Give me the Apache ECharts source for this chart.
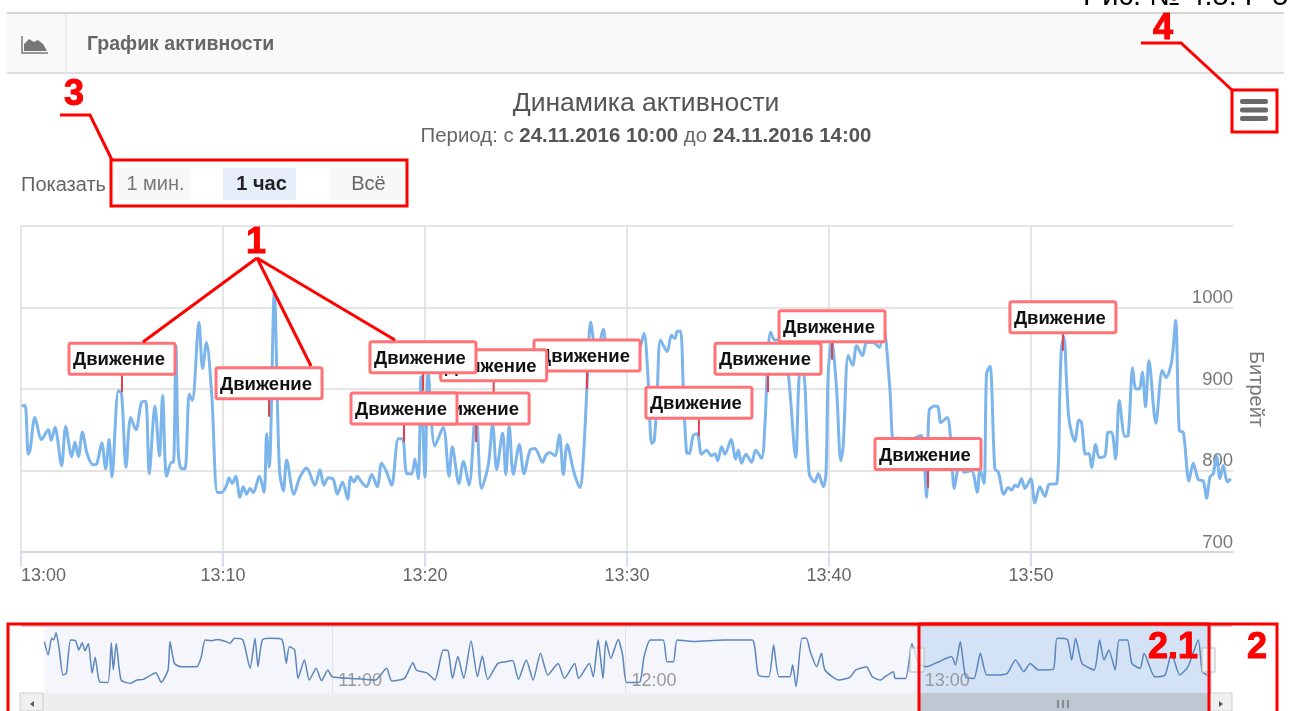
<!DOCTYPE html>
<html>
<head>
<meta charset="utf-8">
<title>График активности</title>
<style>
    html, body { margin: 0; padding: 0; background: #fff; }
    #chart { width: 1290px; height: 711px; }
</style>
<script src="https://cdn.jsdelivr.net/npm/echarts@6/dist/echarts.min.js"></script>
</head>
<body>
<div id="chart"></div>
<script>
// main plot: minutes after 13:00 / bitrate
const mainMinutes = [
    0.03, 0.2, 0.36, 0.45, 0.69, 1.02, 1.35, 1.5, 1.68, 2.01, 2.21, 2.51, 2.67, 2.84, 3.04, 3.28, 3.58, 3.75, 4.0, 4.19,
    4.36, 4.5, 4.82, 4.98, 5.2, 5.43, 5.69, 5.97, 6.17, 6.35, 6.63, 6.85, 7.01, 7.21, 7.46, 7.55, 7.67, 7.79, 7.95, 8.12,
    8.33, 8.48, 8.81, 8.99, 9.18, 9.44, 9.72, 9.93, 10.18, 10.3, 10.46, 10.63, 10.84, 11.0, 11.17, 11.34, 11.5, 11.8, 12.03, 12.16,
    12.29, 12.54, 12.79, 12.99, 13.15, 13.51, 13.81, 14.14, 14.55, 14.8, 15.0, 15.21, 15.46, 15.66, 15.92, 16.17, 16.32, 16.49, 16.65, 16.82,
    17.11, 17.36, 17.64, 17.85, 18.1, 18.35, 18.68, 18.89, 19.1, 19.34, 19.5, 19.67, 19.8, 20.0, 20.16, 20.49, 20.9, 21.19, 21.35, 21.68,
    21.9, 22.18, 22.52, 22.8, 23.13, 23.35, 23.55, 23.84, 24.0, 24.17, 24.37, 24.67, 24.9, 25.2, 25.44, 25.82, 25.99, 26.19, 26.43, 26.65,
    26.85, 27.04, 27.37, 27.67, 27.84, 28.05, 28.2, 28.5, 28.83, 29.1, 30.0, 30.6, 30.84, 31.05, 31.22, 31.35, 31.5, 31.66, 31.99, 32.2,
    32.37, 32.49, 32.65, 32.79, 32.95, 33.08, 33.28, 33.48, 33.69, 33.94, 34.19, 34.35, 34.49, 34.68, 34.85, 35.15, 35.38, 35.51, 35.67, 35.89,
    36.17, 36.37, 36.66, 36.83, 36.94, 37.11, 37.32, 37.6, 37.98, 38.35, 38.56, 38.73, 39.02, 39.3, 39.47, 39.72, 39.85, 39.96, 40.13, 40.38,
    40.58, 40.7, 40.95, 41.17, 41.37, 41.66, 41.86, 42.19, 42.49, 42.69, 43.02, 43.18, 43.38, 43.9, 44.34, 44.58, 44.83, 44.96, 45.24, 45.4,
    45.54, 45.85, 46.02, 46.2, 46.35, 46.5, 46.68, 47.05, 47.34, 47.47, 47.67, 47.8, 47.97, 48.21, 48.38, 48.66, 48.87, 49.04, 49.2, 49.33,
    49.53, 49.7, 49.99, 50.19, 50.44, 50.69, 50.9, 51.27, 51.43, 51.51, 51.63, 51.76, 51.89, 52.17, 52.37, 52.5, 52.7, 52.87, 53.0, 53.2,
    53.38, 53.66, 53.82, 53.99, 54.19, 54.37, 54.65, 54.81, 55.03, 55.19, 55.36, 55.51, 55.67, 55.84, 56.18, 56.5, 56.68, 56.96, 57.16, 57.34,
    57.54, 57.82, 58.03, 58.28, 58.53, 58.69, 58.86, 59.02, 59.19, 59.35, 59.52, 59.72, 59.89
];
const mainBitrate = [
    879, 880, 820, 825, 865, 838, 850, 837, 853, 806, 854, 817, 835, 817, 847, 820, 807, 808, 834, 802,
    838, 792, 898, 894, 804, 865, 850, 884, 885, 796, 879, 818, 892, 793, 810, 810, 953, 820, 802, 802,
    894, 886, 982, 925, 957, 894, 773, 773, 782, 791, 784, 793, 767, 780, 771, 778, 773, 793, 773, 845,
    804, 1019, 802, 775, 813, 771, 792, 803, 782, 801, 782, 791, 789, 771, 786, 765, 792, 786, 793, 787,
    780, 795, 780, 809, 798, 782, 839, 839, 796, 796, 814, 790, 915, 792, 920, 830, 853, 793, 829, 784,
    811, 782, 878, 778, 806, 857, 801, 846, 795, 855, 795, 832, 796, 825, 827, 810, 819, 822, 818, 844,
    795, 832, 798, 779, 816, 919, 982, 939, 973, 940, 945, 950, 968, 910, 833, 837, 898, 960, 946, 966,
    962, 971, 971, 898, 822, 821, 843, 845, 820, 825, 818, 821, 812, 829, 820, 838, 814, 825, 809, 820,
    810, 825, 815, 857, 919, 970, 960, 960, 919, 816, 919, 919, 796, 786, 796, 780, 796, 919, 960, 898,
    812, 829, 941, 929, 953, 941, 957, 957, 951, 978, 898, 837, 840, 835, 841, 843, 767, 874, 879, 878,
    859, 865, 839, 778, 798, 808, 798, 800, 773, 802, 784, 919, 928, 802, 798, 771, 779, 776, 782, 780,
    790, 778, 790, 760, 780, 768, 783, 784, 898, 951, 964, 910, 861, 836, 862, 859, 820, 821, 804, 832,
    816, 818, 847, 847, 814, 886, 842, 843, 926, 900, 900, 921, 878, 935, 858, 923, 914, 933, 984, 849,
    847, 787, 809, 789, 787, 766, 792, 796, 818, 790, 806, 786, 790
];

// flag foot points, listed latest first: earlier flags are painted over later ones
const flagMinutes = [51.58, 44.9, 40.15, 36.98, 33.56, 28.02, 23.4, 22.53, 19.9, 18.96, 12.28, 5.0];
const flagBitrate = [947, 779, 936, 896, 842, 900, 888, 835, 898, 835, 866, 896];
const flagLabel = 'Движение';

// navigator: minutes after 10:00 / bitrate
const navMinutes = [
    1.1, 1.87, 2.6, 3.0, 3.5, 4.16, 4.9, 5.6, 6.45, 7.47, 8.15, 8.83, 9.42, 10.1, 10.87, 11.5, 12.4, 14.1, 14.8, 15.2,
    15.8, 16.8, 18.8, 20, 21.3, 23.9, 25, 26.4, 26.8, 27.7, 29, 32.3, 33.2, 34, 35.3, 36.6, 38.3, 39.1, 40, 41.7,
    43.2, 44.2, 44.8, 45.7, 47.4, 49.7, 50.6, 51.2, 52.3, 53, 54.3, 55.3, 56.7, 57.8, 59.1, 60, 64.2, 68.8, 71.1, 72.2,
    74.8, 76.5, 77.2, 79.5, 81, 82.7, 83.7, 84.6, 85.7, 86.9, 88.4, 89.7, 90.7, 91.8, 93.9, 95.6, 96.9, 98.1, 99.7, 101.1,
    102.6, 104.1, 106.2, 107.5, 109.6, 110.4, 112.6, 113.4, 114.4, 115.4, 116, 117, 118.5, 119.4, 120.2, 121.9, 123, 123.8, 125.1, 127.7,
    128.5, 129.8, 130.6, 134, 140, 145.9, 147.2, 149.3, 150.3, 151.4, 153.6, 154.2, 154.9, 156.1, 157, 157.8, 159.1, 160.1, 160.8, 163.7,
    165.9, 167.1, 168, 169.3, 170.5, 172.2, 173.1, 174.8, 175.2, 177.3, 178.6, 179.9, 181.6, 184.1, 186.7, 187.5, 188.5, 189.6, 191.3, 192.6,
    193.9, 196, 198.1, 199.8, 201.5, 202.8, 204.5, 207.5, 208.3, 210.4, 211.3, 212.1, 213.4, 215.9, 217, 217.9, 218.9, 220.2, 221, 222.7,
    223.6, 225.3, 226.1, 228.3, 230.4, 231.7, 233.4, 235.1, 237.2, 238, 239
];
const navBitrate = [
    1022, 925, 1046, 1034, 1087, 961, 780, 792, 1034, 1029, 961, 1014, 956, 1009, 792, 908, 731, 726, 1014, 816,
    1009, 743, 719, 743, 748, 796, 726, 816, 1022, 864, 840, 840, 913, 1034, 1029, 1038, 1022, 1009, 1046, 1034,
    828, 1046, 840, 1034, 1046, 1038, 864, 985, 961, 755, 888, 743, 828, 738, 816, 767, 755, 743, 828, 736,
    755, 869, 816, 792, 743, 961, 956, 755, 913, 755, 1026, 767, 917, 748, 864, 876, 884, 748, 888, 743,
    937, 780, 864, 755, 864, 755, 864, 767, 1034, 755, 1029, 900, 1038, 925, 726, 726, 731, 913, 1034, 1034,
    876, 876, 1034, 1022, 1034, 1034, 780, 767, 997, 767, 767, 852, 695, 1046, 1046, 949, 840, 937, 816, 743,
    763, 816, 828, 840, 767, 743, 767, 804, 755, 755, 1009, 864, 840, 876, 913, 852, 1022, 767, 755, 937,
    780, 780, 792, 888, 804, 864, 816, 820, 1046, 1038, 888, 1046, 864, 816, 1034, 888, 961, 816, 1034, 1034,
    864, 828, 937, 767, 780, 937, 780, 840, 1034, 804, 780
];

const mainTicks = [0, 10, 20, 30, 40, 50];
const navTicks = [60, 120, 180];
const selectedStart = 180;
const navEnd = 240;

const FONT = '"Liberation Sans", Arial, sans-serif';
const RED = '#ff0000';

function clock(baseHour, minutes) {
    const total = baseHour * 60 + minutes;
    const mm = String(total % 60).padStart(2, '0');
    return Math.floor(total / 60) + ':' + mm;
}

function redLine(points) {
    return { type: 'polyline', shape: { points: points }, style: { stroke: RED, lineWidth: 3, fill: null }, z: 100 };
}

function redBox(x, y, width, height) {
    return { type: 'rect', shape: { x: x, y: y, width: width, height: height }, style: { stroke: RED, lineWidth: 3, fill: null }, z: 100 };
}

function redNumber(text, x, y, size) {
    return {
        type: 'text', x: x, y: y, z: 101,
        style: { text: text, fill: RED, stroke: RED, lineWidth: 1, font: 'bold ' + size + 'px ' + FONT },
    };
}

function rangeButton(text, x, fill, color, weight) {
    return [
        { type: 'rect', shape: { x: x, y: 168, width: 73, height: 32 }, style: { fill: fill } },
        {
            type: 'text', x: x + 38.5, y: 184,
            style: { text: text, fill: color, font: weight + ' 20px ' + FONT, textAlign: 'center', textVerticalAlign: 'middle' },
        },
    ];
}

const chart = echarts.init(document.getElementById('chart'));
chart.setOption({
    backgroundColor: '#fff',
    animation: false,
    title: [
        {
            text: 'Динамика активности',
            left: 646, top: 90, padding: 0, textAlign: 'center',
            textStyle: { fontFamily: FONT, fontSize: 26.5, fontWeight: 'normal', color: '#555' },
        },
        {
            text: '{n|Период: с }{b|24.11.2016 10:00}{n| до }{b|24.11.2016 14:00}',
            left: 646, top: 126, padding: 0, textAlign: 'center',
            textStyle: {
                rich: {
                    n: { fontFamily: FONT, fontSize: 20.4, fontWeight: 'normal', color: '#666' },
                    b: { fontFamily: FONT, fontSize: 20.4, fontWeight: 'bold', color: '#555' },
                },
            },
        },
    ],
    grid: [
        { left: 21, top: 226, width: 1212, height: 326 },
        { left: 39, top: 627, width: 1173, height: 66 },
    ],
    xAxis: [
        {
            type: 'value', gridIndex: 0, min: 0, max: 60,
            axisLine: { lineStyle: { color: '#c8d4e4', width: 1.5 } },
            axisTick: { customValues: mainTicks, length: 15, lineStyle: { color: '#c8d4e4', width: 1.5 } },
            splitLine: { show: true, lineStyle: { color: '#dcdcdc', width: 1.5 } },
            axisLabel: {
                customValues: mainTicks, margin: 15, alignMinLabel: 'left',
                color: '#666', fontFamily: FONT, fontSize: 18,
                formatter: (v) => clock(13, v),
            },
        },
        {
            type: 'value', gridIndex: 1, min: 0, max: navEnd, z: 5,
            axisLine: { show: false },
            axisTick: { show: false, customValues: navTicks },
            splitLine: { show: true, lineStyle: { color: '#e2e2e2', width: 1 } },
            axisLabel: {
                customValues: navTicks, inside: true, margin: 3, align: 'left', padding: [0, 0, 0, 6],
                color: '#999', fontFamily: FONT, fontSize: 18,
                formatter: (v) => clock(10, v),
            },
        },
    ],
    yAxis: [
        {
            type: 'value', gridIndex: 0, position: 'right', min: 700, max: 1100, interval: 100,
            name: 'Битрейт', nameLocation: 'middle', nameRotate: -90, nameGap: 13,
            nameTextStyle: { color: '#777', fontFamily: FONT, fontSize: 20 },
            axisLine: { show: false },
            axisTick: { show: false },
            splitLine: { lineStyle: { color: '#dcdcdc', width: 1.5 } },
            axisLabel: {
                inside: true, margin: 0, showMaxLabel: false, verticalAlign: 'bottom', padding: 0,
                color: '#777', fontFamily: FONT, fontSize: 18.5,
                formatter: (v) => String(v),
            },
        },
        {
            type: 'value', gridIndex: 1, min: 649, max: 1128, show: false,
        },
    ],
    series: [
        {
            name: 'Битрейт',
            type: 'line', xAxisIndex: 0, yAxisIndex: 0,
            data: mainMinutes.map((m, i) => [m, mainBitrate[i]]),
            smooth: 0.3, showSymbol: false,
            lineStyle: { color: '#7cb5ec', width: 3 },
            z: 3,
        },
        {
            name: flagLabel,
            type: 'custom', xAxisIndex: 0, yAxisIndex: 0, clip: false, z: 5,
            data: flagMinutes.map((m, i) => [m, flagBitrate[i]]),
            renderItem: function (params, api) {
                const foot = api.coord([api.value(0), api.value(1)]);
                return {
                    type: 'group',
                    children: [
                        {
                            type: 'line',
                            shape: { x1: foot[0], y1: foot[1] - 18, x2: foot[0], y2: foot[1] },
                            style: { stroke: '#e2404c', lineWidth: 2 },
                        },
                        {
                            type: 'rect',
                            shape: { x: foot[0] - 53, y: foot[1] - 49, width: 106, height: 31, r: 2 },
                            style: { fill: '#fff', stroke: '#ff7378', lineWidth: 3 },
                        },
                        {
                            type: 'text', x: foot[0] - 49, y: foot[1] - 32,
                            style: {
                                text: flagLabel, fill: '#111', font: 'bold 18.5px ' + FONT,
                                textAlign: 'left', textVerticalAlign: 'middle',
                            },
                        },
                    ],
                };
            },
        },
        {
            name: 'Навигатор',
            type: 'line', xAxisIndex: 1, yAxisIndex: 1,
            data: navMinutes.map((m, i) => [m, navBitrate[i]]),
            smooth: 0.2, showSymbol: false,
            lineStyle: { color: '#5b85bb', width: 1.5 },
            z: 6,
            markArea: {
                silent: true,
                itemStyle: { opacity: 1 },
                data: [
                    [{ xAxis: navMinutes[0], itemStyle: { color: '#f4f6fc' } }, { xAxis: selectedStart }],
                    [{ xAxis: selectedStart, itemStyle: { color: '#d3e2f4' } }, { xAxis: navEnd }],
                ],
            },
        },
    ],
    graphic: {
        elements: [
            // caption cut off by the top edge of the picture
            { type: 'text', x: 1083, y: -18, style: { text: 'Рис. № 4.5. Р 5', fill: '#000', font: '29px ' + FONT } },

            // panel header
            { type: 'rect', shape: { x: 7, y: 13, width: 1277, height: 60 }, style: { fill: '#f9f9f9' } },
            { type: 'line', shape: { x1: 7, y1: 13, x2: 1284, y2: 13 }, style: { stroke: '#d4d4d4', lineWidth: 2 } },
            { type: 'line', shape: { x1: 7, y1: 73, x2: 1284, y2: 73 }, style: { stroke: '#dedede', lineWidth: 2 } },
            { type: 'line', shape: { x1: 66, y1: 14, x2: 66, y2: 73 }, style: { stroke: '#e4e4e4', lineWidth: 1.5 } },
            { type: 'polyline', shape: { points: [[22, 36], [22, 53], [48, 53]] }, style: { stroke: '#777', lineWidth: 1.5, fill: null } },
            {
                type: 'polygon',
                shape: { points: [[24, 51], [24, 44], [29, 39], [34, 42], [38, 40], [43, 44], [47, 51]] },
                style: { fill: '#777' },
            },
            { type: 'text', x: 87, y: 45, style: { text: 'График активности', fill: '#666', font: 'bold 19.5px ' + FONT, textVerticalAlign: 'middle' } },

            // range selector
            { type: 'text', x: 21, y: 185, style: { text: 'Показать', fill: '#666', font: '20px ' + FONT, textVerticalAlign: 'middle' } },
            ...rangeButton('1 мин.', 117, '#f7f7f7', '#777', 'normal'),
            ...rangeButton('1 час', 223, '#e6eefa', '#222', 'bold'),
            ...rangeButton('Всё', 330, '#f7f7f7', '#666', 'normal'),

            // export menu
            { type: 'rect', shape: { x: 1240, y: 99, width: 28, height: 5, r: 2 }, style: { fill: '#6a6a6a' } },
            { type: 'rect', shape: { x: 1240, y: 107.5, width: 28, height: 5, r: 2 }, style: { fill: '#6a6a6a' } },
            { type: 'rect', shape: { x: 1240, y: 116, width: 28, height: 5, r: 2 }, style: { fill: '#6a6a6a' } },

            // navigator frame, handles and scrollbar
            { type: 'line', shape: { x1: 21, y1: 626, x2: 1232, y2: 626 }, style: { stroke: '#b8b8b8', lineWidth: 1.5 } },
            { type: 'rect', shape: { x: 43, y: 693, width: 1166, height: 18 }, style: { fill: '#eeeeee' } },
            { type: 'rect', shape: { x: 919, y: 693, width: 290, height: 18 }, style: { fill: '#bfc8d2' } },
            { type: 'rect', shape: { x: 20, y: 693, width: 23, height: 18 }, style: { fill: '#f0f0f0', stroke: '#cfcfcf', lineWidth: 1 } },
            { type: 'rect', shape: { x: 1209, y: 693, width: 23, height: 18 }, style: { fill: '#f0f0f0', stroke: '#cfcfcf', lineWidth: 1 } },
            { type: 'polygon', shape: { points: [[34, 701], [30, 704], [34, 707]] }, style: { fill: '#555' } },
            { type: 'polygon', shape: { points: [[1219, 701], [1223, 704], [1219, 707]] }, style: { fill: '#555' } },
            { type: 'line', shape: { x1: 1058, y1: 700, x2: 1058, y2: 708 }, style: { stroke: '#777', lineWidth: 1.5 } },
            { type: 'line', shape: { x1: 1063, y1: 700, x2: 1063, y2: 708 }, style: { stroke: '#777', lineWidth: 1.5 } },
            { type: 'line', shape: { x1: 1068, y1: 700, x2: 1068, y2: 708 }, style: { stroke: '#777', lineWidth: 1.5 } },
            { type: 'rect', z: 7, shape: { x: 910, y: 648, width: 14, height: 24 }, style: { fill: 'rgba(245,245,245,0.75)', stroke: '#bbb', lineWidth: 1 } },
            { type: 'rect', z: 7, shape: { x: 1202, y: 648, width: 13, height: 24 }, style: { fill: 'rgba(245,245,245,0.75)', stroke: '#bbb', lineWidth: 1 } },

            // red annotations
            redLine([[257, 258], [143, 342]]),
            redLine([[257, 258], [311, 366]]),
            redLine([[257, 258], [395, 340]]),
            redNumber('1', 246, 225, 36),
            redLine([[60, 115], [90, 115], [112, 160]]),
            redBox(111, 160, 296, 46),
            redNumber('3', 64, 77, 36),
            redLine([[1141, 43], [1181, 43], [1232, 90]]),
            redBox(1232, 90, 45, 42),
            redNumber('4', 1153, 11, 36),
            redBox(8, 624, 1269, 100),
            redBox(919, 624, 290, 100),
            redNumber('2.1', 1148, 630, 36),
            redNumber('2', 1247, 630, 36),
        ],
    },
});
</script>
</body>
</html>
